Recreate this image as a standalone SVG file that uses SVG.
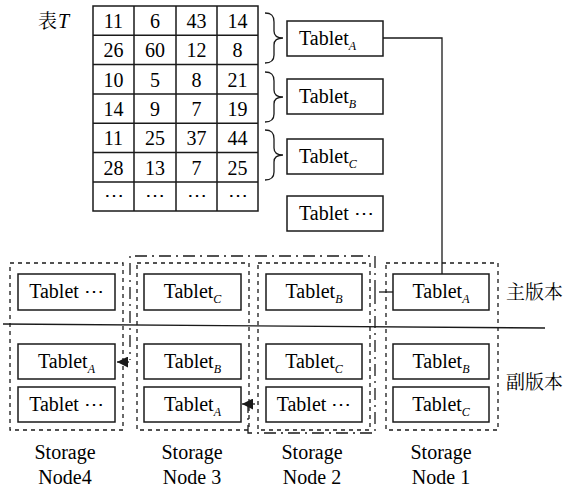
<svg xmlns="http://www.w3.org/2000/svg" width="569" height="489" viewBox="0 0 569 489">
<style>
.box{fill:#fff;stroke:#1a1a1a;stroke-width:1.5}
.grid{fill:none;stroke:#1a1a1a;stroke-width:1.5}
.dot{fill:none;stroke:#1a1a1a;stroke-width:1.3;stroke-dasharray:4,4}
.dd{fill:none;stroke:#1a1a1a;stroke-width:1.3;stroke-dasharray:12,5,2,5}
.ln{fill:none;stroke:#1a1a1a;stroke-width:1.3}
</style>
<defs>
<marker id="ah" viewBox="0 0 10 10" refX="10" refY="5" markerWidth="11" markerHeight="11" markerUnits="userSpaceOnUse" orient="auto"><path d="M0,0L10,5L0,10z" fill="#1a1a1a"/></marker>
</defs>

<g id="table">
<text x="38" y="28" font-family="Noto Serif CJK SC" font-size="19">表</text><text x="58" y="28" font-family="Liberation Serif" font-size="20" font-style="italic">T</text>
<rect x="93" y="6" width="165" height="205" class="grid"/>
<path class="grid" d="M134,6V211M176,6V211M217,6V211M93,35.3H258M93,64.6H258M93,94H258M93,123.3H258M93,152.6H258M93,182H258"/>
<text x="113.5" y="28" font-family="Liberation Serif" font-size="20" text-anchor="middle">11</text><text x="155" y="28" font-family="Liberation Serif" font-size="20" text-anchor="middle">6</text><text x="196.5" y="28" font-family="Liberation Serif" font-size="20" text-anchor="middle">43</text><text x="237.5" y="28" font-family="Liberation Serif" font-size="20" text-anchor="middle">14</text>
<text x="113.5" y="57.3" font-family="Liberation Serif" font-size="20" text-anchor="middle">26</text><text x="155" y="57.3" font-family="Liberation Serif" font-size="20" text-anchor="middle">60</text><text x="196.5" y="57.3" font-family="Liberation Serif" font-size="20" text-anchor="middle">12</text><text x="237.5" y="57.3" font-family="Liberation Serif" font-size="20" text-anchor="middle">8</text>
<text x="113.5" y="86.6" font-family="Liberation Serif" font-size="20" text-anchor="middle">10</text><text x="155" y="86.6" font-family="Liberation Serif" font-size="20" text-anchor="middle">5</text><text x="196.5" y="86.6" font-family="Liberation Serif" font-size="20" text-anchor="middle">8</text><text x="237.5" y="86.6" font-family="Liberation Serif" font-size="20" text-anchor="middle">21</text>
<text x="113.5" y="116" font-family="Liberation Serif" font-size="20" text-anchor="middle">14</text><text x="155" y="116" font-family="Liberation Serif" font-size="20" text-anchor="middle">9</text><text x="196.5" y="116" font-family="Liberation Serif" font-size="20" text-anchor="middle">7</text><text x="237.5" y="116" font-family="Liberation Serif" font-size="20" text-anchor="middle">19</text>
<text x="113.5" y="145.3" font-family="Liberation Serif" font-size="20" text-anchor="middle">11</text><text x="155" y="145.3" font-family="Liberation Serif" font-size="20" text-anchor="middle">25</text><text x="196.5" y="145.3" font-family="Liberation Serif" font-size="20" text-anchor="middle">37</text><text x="237.5" y="145.3" font-family="Liberation Serif" font-size="20" text-anchor="middle">44</text>
<text x="113.5" y="174.6" font-family="Liberation Serif" font-size="20" text-anchor="middle">28</text><text x="155" y="174.6" font-family="Liberation Serif" font-size="20" text-anchor="middle">13</text><text x="196.5" y="174.6" font-family="Liberation Serif" font-size="20" text-anchor="middle">7</text><text x="237.5" y="174.6" font-family="Liberation Serif" font-size="20" text-anchor="middle">25</text>
<text x="113.5" y="202" font-family="Liberation Serif" font-size="20" text-anchor="middle">⋯</text><text x="155" y="202" font-family="Liberation Serif" font-size="20" text-anchor="middle">⋯</text><text x="196.5" y="202" font-family="Liberation Serif" font-size="20" text-anchor="middle">⋯</text><text x="237.5" y="202" font-family="Liberation Serif" font-size="20" text-anchor="middle">⋯</text>
</g>

<g id="braces" class="ln">
<path d="M265,13C272,13 274,16 274,22V31C274,36 277,38 283,38C277,38 274,40 274,45V55C274,60 272,63 265,63"/>
<path d="M265,72C272,72 274,75 274,81V90C274,95 277,97 283,97C277,97 274,99 274,104V114C274,119 272,122 265,122"/>
<path d="M265,130C272,130 274,133 274,139V148C274,153 277,155 283,155C277,155 274,157 274,162V172C274,177 272,180 265,180"/>
</g>

<g id="tabletA-top"><rect x="287" y="21" width="96" height="35" class="box"/><text x="299" y="45" font-family="Liberation Serif" font-size="20">Tablet<tspan font-size="12" font-style="italic" dy="5">A</tspan></text></g>
<g id="tabletB-top"><rect x="287" y="79" width="96" height="35" class="box"/><text x="299" y="103" font-family="Liberation Serif" font-size="20">Tablet<tspan font-size="12" font-style="italic" dy="5">B</tspan></text></g>
<g id="tabletC-top"><rect x="287" y="139" width="96" height="35" class="box"/><text x="299" y="163" font-family="Liberation Serif" font-size="20">Tablet<tspan font-size="12" font-style="italic" dy="5">C</tspan></text></g>
<g id="tabletX-top"><rect x="287" y="196" width="96" height="35" class="box"/><text x="299" y="220" font-family="Liberation Serif" font-size="20">Tablet ⋯</text></g>

<g id="node4">
<rect x="10" y="263" width="113" height="167" class="dot"/>
<rect x="18" y="274" width="97" height="36" class="box"/><text x="66.5" y="298" font-family="Liberation Serif" font-size="20" text-anchor="middle">Tablet ⋯</text>
<rect x="18" y="344" width="97" height="35" class="box"/><text x="66.5" y="368" font-family="Liberation Serif" font-size="20" text-anchor="middle">Tablet<tspan font-size="12" font-style="italic" dy="5">A</tspan></text>
<rect x="18" y="387" width="97" height="35" class="box"/><text x="66.5" y="411" font-family="Liberation Serif" font-size="20" text-anchor="middle">Tablet ⋯</text>
<text x="65" y="459" font-family="Liberation Serif" font-size="20" text-anchor="middle">Storage</text><text x="65" y="484" font-family="Liberation Serif" font-size="20" text-anchor="middle">Node4</text>
</g>
<g id="node3">
<rect x="137" y="263" width="112" height="167" class="dot"/>
<rect x="144" y="274" width="97" height="36" class="box"/><text x="192.5" y="298" font-family="Liberation Serif" font-size="20" text-anchor="middle">Tablet<tspan font-size="12" font-style="italic" dy="5">C</tspan></text>
<rect x="144" y="344" width="97" height="35" class="box"/><text x="192.5" y="368" font-family="Liberation Serif" font-size="20" text-anchor="middle">Tablet<tspan font-size="12" font-style="italic" dy="5">B</tspan></text>
<rect x="144" y="387" width="97" height="35" class="box"/><text x="192.5" y="411" font-family="Liberation Serif" font-size="20" text-anchor="middle">Tablet<tspan font-size="12" font-style="italic" dy="5">A</tspan></text>
<text x="192" y="459" font-family="Liberation Serif" font-size="20" text-anchor="middle">Storage</text><text x="192" y="484" font-family="Liberation Serif" font-size="20" text-anchor="middle">Node 3</text>
</g>
<g id="node2">
<rect x="258" y="263" width="112" height="167" class="dot"/>
<rect x="266" y="274" width="96" height="36" class="box"/><text x="314" y="298" font-family="Liberation Serif" font-size="20" text-anchor="middle">Tablet<tspan font-size="12" font-style="italic" dy="5">B</tspan></text>
<rect x="266" y="344" width="96" height="35" class="box"/><text x="314" y="368" font-family="Liberation Serif" font-size="20" text-anchor="middle">Tablet<tspan font-size="12" font-style="italic" dy="5">C</tspan></text>
<rect x="266" y="387" width="96" height="35" class="box"/><text x="314" y="411" font-family="Liberation Serif" font-size="20" text-anchor="middle">Tablet ⋯</text>
<text x="312" y="459" font-family="Liberation Serif" font-size="20" text-anchor="middle">Storage</text><text x="312" y="484" font-family="Liberation Serif" font-size="20" text-anchor="middle">Node 2</text>
</g>
<g id="node1">
<rect x="386" y="263" width="112" height="167" class="dot"/>
<rect x="393" y="274" width="96" height="36" class="box"/><text x="441" y="298" font-family="Liberation Serif" font-size="20" text-anchor="middle">Tablet<tspan font-size="12" font-style="italic" dy="5">A</tspan></text>
<rect x="393" y="344" width="96" height="35" class="box"/><text x="441" y="368" font-family="Liberation Serif" font-size="20" text-anchor="middle">Tablet<tspan font-size="12" font-style="italic" dy="5">B</tspan></text>
<rect x="393" y="387" width="96" height="35" class="box"/><text x="441" y="411" font-family="Liberation Serif" font-size="20" text-anchor="middle">Tablet<tspan font-size="12" font-style="italic" dy="5">C</tspan></text>
<text x="441" y="459" font-family="Liberation Serif" font-size="20" text-anchor="middle">Storage</text><text x="441" y="484" font-family="Liberation Serif" font-size="20" text-anchor="middle">Node 1</text>
</g>

<g id="labels">
<text x="506" y="299" font-family="Noto Serif CJK SC" font-size="19">主版本</text>
<text x="506" y="389" font-family="Noto Serif CJK SC" font-size="19">副版本</text>
</g>

<g id="connectors">
<path class="ln" d="M383,38H442V274"/>
<path class="ln" d="M3,324L545,328"/>
<path class="ln" d="M379,292H393"/>
<path class="dd" d="M375,292V256H130V360"/>
<path class="ln" d="M129,362H117" marker-end="url(#ah)"/>
<path class="dd" d="M375,292V433H248V406"/>
<path class="ln" d="M255,404H242" marker-end="url(#ah)"/>
</g>
</svg>
